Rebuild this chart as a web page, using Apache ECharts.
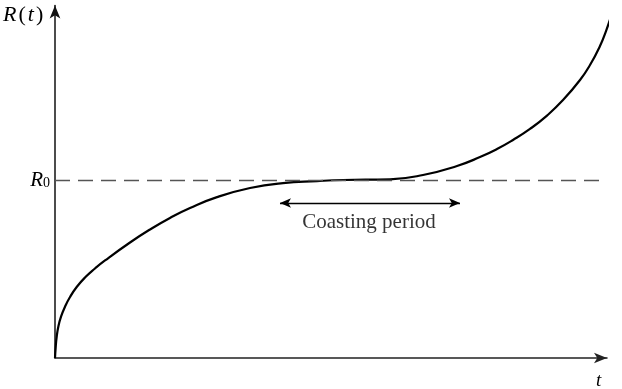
<!DOCTYPE html>
<html>
<head>
<meta charset="utf-8">
<script src="https://cdn.jsdelivr.net/npm/echarts@6/dist/echarts.min.js"></script>
<style>
  html, body { margin: 0; padding: 0; background: #fff; }
  #chart { width: 622px; height: 389px; }
</style>
</head>
<body>
<div id="chart"></div>
<script>
// Time axis (arbitrary units) and radius R(t) in units of R0
const tValues = [0, 0.013, 0.031, 0.060, 0.109, 0.181, 0.272, 0.393, 0.543, 0.725, 0.906,
  1.359, 1.721, 2.083, 2.446, 2.935, 3.533, 4.130, 4.746, 5.217, 6.069, 6.667,
  7.283, 7.699, 8.007, 8.297, 8.605, 8.913, 9.203, 9.511, 9.692, 9.873, 9.982, 10.091];
const rValues = [0, 0.063, 0.120, 0.176, 0.232, 0.288, 0.343, 0.399, 0.452, 0.503, 0.548,
  0.649, 0.722, 0.787, 0.843, 0.904, 0.955, 0.983, 0.994, 1.000, 1.004, 1.028,
  1.079, 1.129, 1.174, 1.225, 1.287, 1.362, 1.449, 1.562, 1.646, 1.753, 1.837, 1.938];

// Reference radius R0 and the span of the coasting period
const r0 = 1;
const coastStart = 4.076;
const coastEnd = 7.337;
const coastArrowLevel = 0.871;
const coastLabelPoint = [5.688, 0.764];
const coastLabel = 'Coasting period';

const serif = '"Liberation Serif", "DejaVu Serif", serif';

const chart = echarts.init(document.getElementById('chart'), null, { renderer: 'canvas' });

chart.setOption({
  animation: false,
  backgroundColor: '#ffffff',
  grid: { left: 55, right: 15, top: 5.6, bottom: 31, containLabel: false },
  xAxis: {
    type: 'value', min: 0, max: 10,
    axisLine: { show: true, symbol: ['none', 'arrow'], symbolSize: [8, 13],
      lineStyle: { color: '#222', width: 1.5 } },
    axisTick: { show: false }, axisLabel: { show: false }, splitLine: { show: false }
  },
  yAxis: {
    type: 'value', min: 0, max: 1.98,
    axisLine: { show: true, symbol: ['none', 'arrow'], symbolSize: [8, 13],
      lineStyle: { color: '#111', width: 1.5 } },
    axisTick: { show: false }, axisLabel: { show: false }, splitLine: { show: false }
  },
  graphic: [
    { type: 'text', left: 3, top: 4,
      style: { text: '{i|R}{n|(}{i|t}{n|)}', fill: '#000',
        rich: {
          i: { fontFamily: serif, fontStyle: 'italic', fontSize: 22, fill: '#000' },
          n: { fontFamily: serif, fontSize: 22, fill: '#000', padding: [0, 2, 0, 2] }
        } } },
    { type: 'text', left: 596, top: 371,
      style: { text: 't', fill: '#000', font: 'italic 19px ' + serif } }
  ],
  series: [
    {
      name: 'R(t)', type: 'line', clip: false,
      data: tValues.map((t, i) => [t, rValues[i]]),
      smooth: 0.5, showSymbol: false, symbol: 'none',
      lineStyle: { color: '#000', width: 2.2 },
      markLine: {
        silent: true, symbol: ['none', 'none'],
        lineStyle: { color: '#555', width: 1.3, type: [15, 8] },
        label: {
          show: true, position: 'start', distance: 5,
          formatter: '{r|R}{s|0}',
          rich: {
            r: { fontFamily: serif, fontStyle: 'italic', fontSize: 21, color: '#000', verticalAlign: 'bottom' },
            s: { fontFamily: serif, fontSize: 14, color: '#000', verticalAlign: 'bottom' }
          }
        },
        data: [{ yAxis: r0 }]
      }
    },
    {
      name: 'coasting', type: 'line', data: [],
      markLine: {
        silent: true, symbol: ['arrow', 'arrow'], symbolSize: [7, 11],
        lineStyle: { color: '#000', width: 1.3, type: 'solid' },
        label: { show: false },
        data: [[{ coord: [coastStart, coastArrowLevel] }, { coord: [coastEnd, coastArrowLevel] }]]
      }
    },
    {
      name: 'label', type: 'scatter', symbolSize: 0,
      data: [coastLabelPoint],
      label: { show: true, position: 'inside', formatter: coastLabel,
        fontFamily: serif, fontSize: 21, color: '#000' }
    }
  ]
});
</script>
</body>
</html>
